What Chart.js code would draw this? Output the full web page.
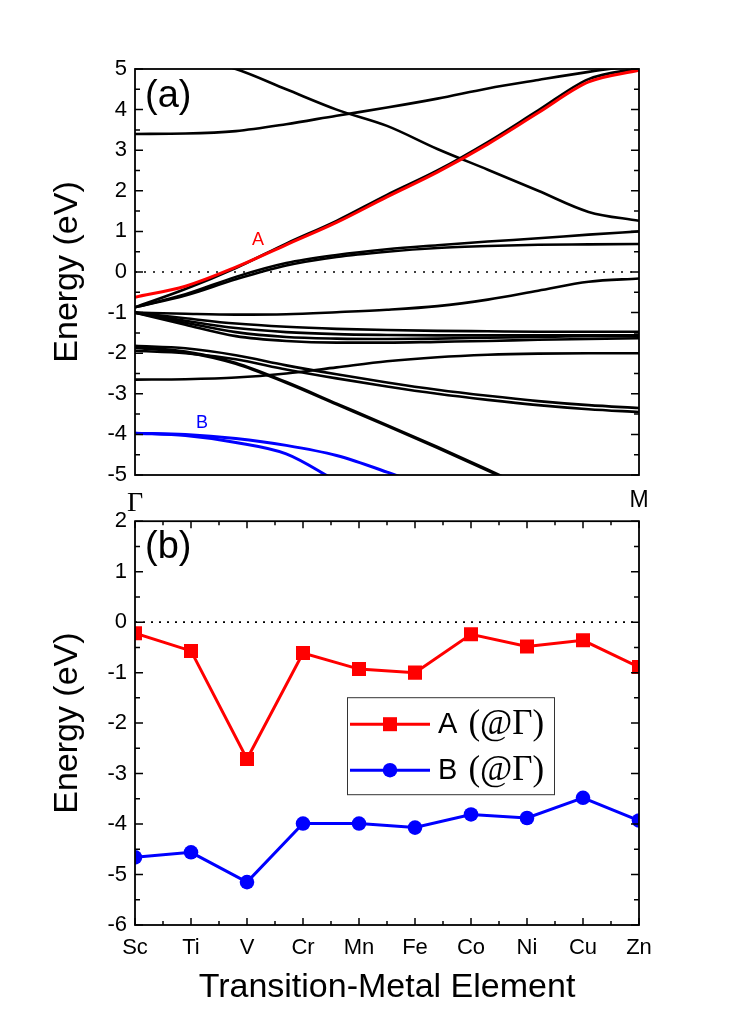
<!DOCTYPE html>
<html>
<head>
<meta charset="utf-8">
<script src="https://cdn.jsdelivr.net/npm/chart.js@4.4.0/dist/chart.umd.min.js"></script>
<style>
  html, body { margin: 0; padding: 0; background: #fff; }
  #wrapA { position: absolute; left: 0; top: 0; width: 746px; height: 515px; }
  #wrapB { position: absolute; left: 0; top: 500px; width: 746px; height: 523px; }
</style>
</head>
<body>
<div id="wrapA"><canvas id="bandChart"></canvas></div>
<div id="wrapB"><canvas id="elemChart"></canvas></div>
<script>
const sans = "'Liberation Sans', Arial, sans-serif";
const serif = "'Liberation Serif', 'Times New Roman', serif";

// panel (a): band structure along Γ -> M
const kPath = [0, 0.1, 0.2, 0.3, 0.4, 0.5, 0.6, 0.7, 0.8, 0.9, 1.0];
const kTicks = [0, 1];
const kLabels = ['Γ', 'M'];

const bandA = [-0.62, -0.35, 0.12, 0.67, 1.22, 1.85, 2.46, 3.15, 3.92, 4.68, 4.97];
const bandB1 = [-3.97, -4.0, -4.1, -4.27, -4.52, -4.93, -5.4, -6.0, -6.6, -7.2, -7.8];
const bandB2 = [-3.97, -4.03, -4.2, -4.48, -5.15, -5.8, -6.5, -7.2, -7.9, -8.6, -9.3];

const band1 = [5.6, 5.3, 5.0, 4.5, 4.0, 3.6, 3.03, 2.52, 2.0, 1.48, 1.26];
const band2 = [3.40, 3.41, 3.47, 3.64, 3.85, 4.05, 4.27, 4.52, 4.73, 4.93, 5.1];
const bandE = [-0.87, -0.42, 0.1, 0.7, 1.26, 1.9, 2.5, 3.2, 3.98, 4.75, 5.02];
const bandC = [-0.87, -0.55, -0.12, 0.22, 0.42, 0.56, 0.66, 0.75, 0.83, 0.92, 1.0];
const bandD = [-0.87, -0.58, -0.18, 0.16, 0.37, 0.5, 0.59, 0.64, 0.67, 0.68, 0.69];
const bandF = [-1.0, -1.03, -1.05, -1.04, -0.99, -0.93, -0.84, -0.68, -0.46, -0.24, -0.16];
const bandG1 = [-1.0, -1.14, -1.27, -1.35, -1.4, -1.43, -1.45, -1.46, -1.47, -1.47, -1.47];
const bandG2 = [-1.0, -1.2, -1.38, -1.48, -1.53, -1.55, -1.56, -1.56, -1.56, -1.56, -1.56];
const bandG3 = [-1.0, -1.25, -1.48, -1.6, -1.64, -1.65, -1.64, -1.62, -1.6, -1.58, -1.58];
const bandG4 = [-1.0, -1.3, -1.58, -1.7, -1.74, -1.74, -1.72, -1.7, -1.67, -1.65, -1.63];
const bandH = [-2.65, -2.64, -2.6, -2.5, -2.35, -2.2, -2.1, -2.04, -2.01, -2.0, -2.0];
const bandI1 = [-1.82, -1.88, -2.05, -2.3, -2.52, -2.72, -2.9, -3.05, -3.18, -3.28, -3.35];
const bandI2 = [-1.94, -2.0, -2.15, -2.4, -2.62, -2.82, -3.0, -3.15, -3.28, -3.38, -3.45];
const bandJ = [-1.86, -1.97, -2.25, -2.72, -3.25, -3.78, -4.32, -4.88, -5.45, -6.0, -6.5];
const blackBands = [band1, band2, bandE, bandC, bandD, bandF, bandG1, bandG2, bandG3, bandG4, bandH, bandI1, bandI2];

// band labels: [text, k, energy, colour]
const bandNotes = [['A', 0.244, 0.79, '#ff0000'], ['B', 0.133, -3.72, '#0000ff']];

// panel (b): A and B at Γ for each transition metal
const elements = ['Sc', 'Ti', 'V', 'Cr', 'Mn', 'Fe', 'Co', 'Ni', 'Cu', 'Zn'];
const energyA = [-0.22, -0.57, -2.71, -0.61, -0.93, -1.0, -0.24, -0.48, -0.36, -0.89];
const energyB = [-4.66, -4.56, -5.15, -3.99, -3.99, -4.07, -3.81, -3.88, -3.48, -3.93];
const seriesLabels = ['A (@Γ)', 'B (@Γ)'];

const toXY = band => band.map((y, i) => ({ x: kPath[i], y }));

function bandSet(band, color, width) {
  return {
    data: toXY(band),
    borderColor: color,
    borderWidth: width,
    pointRadius: 0,
    cubicInterpolationMode: 'monotone',
    clip: 0
  };
}

// box, inward ticks and dotted zero line
const framePlugin = {
  id: 'frame',
  beforeDatasetsDraw(chart, args, opts) {
    const { ctx, chartArea: a, scales } = chart;
    const y0 = scales.y.getPixelForValue(0);
    ctx.save();
    ctx.strokeStyle = '#000';
    ctx.lineWidth = 1.6;
    ctx.setLineDash(opts.dash);
    ctx.beginPath();
    ctx.moveTo(a.left, y0);
    ctx.lineTo(a.right, y0);
    ctx.stroke();
    ctx.restore();
  },
  afterDatasetsDraw(chart, args, opts) {
    const { ctx, chartArea: a, scales } = chart;
    ctx.save();
    ctx.strokeStyle = '#000';
    ctx.lineWidth = 1.8;
    ctx.strokeRect(a.left, a.top, a.right - a.left, a.bottom - a.top);
    ctx.lineWidth = 1.5;
    ctx.beginPath();
    const ys = scales.y;
    for (let v = ys.min; v <= ys.max + 1e-9; v += 0.5) {
      const py = ys.getPixelForValue(v);
      const len = Number.isInteger(v) ? 8 : 5;
      ctx.moveTo(a.left, py); ctx.lineTo(a.left + len, py);
      ctx.moveTo(a.right, py); ctx.lineTo(a.right - len, py);
    }
    if (opts.xTicks) {
      const xs = scales.x;
      const n = xs.getLabels().length;
      for (let i = 0; i <= n - 1; i += 0.5) {
        const px = xs.getPixelForValue(i);
        const len = Number.isInteger(i) ? 7 : 4;
        ctx.moveTo(px, a.top); ctx.lineTo(px, a.top + len);
        ctx.moveTo(px, a.bottom); ctx.lineTo(px, a.bottom - len);
      }
    }
    ctx.stroke();
    // panel tag
    ctx.fillStyle = '#000';
    ctx.font = '38px ' + sans;
    ctx.textBaseline = 'middle';
    ctx.textAlign = 'left';
    ctx.fillText(opts.tag, a.left + 10, a.top + opts.tagY);
    ctx.restore();
  }
};

const notePlugin = {
  id: 'notes',
  afterDatasetsDraw(chart) {
    const { ctx, scales } = chart;
    ctx.save();
    ctx.font = '18px ' + sans;
    ctx.textAlign = 'center';
    ctx.textBaseline = 'middle';
    bandNotes.forEach(([t, k, e, c]) => {
      ctx.fillStyle = c;
      ctx.fillText(t, scales.x.getPixelForValue(k), scales.y.getPixelForValue(e));
    });
    ctx.restore();
  }
};

const legendPlugin = {
  id: 'boxLegend',
  afterDraw(chart) {
    const { ctx, chartArea: a } = chart;
    const bx = a.left + 212, by = a.top + 176, bw = 207, bh = 97;
    ctx.save();
    ctx.strokeStyle = '#333';
    ctx.lineWidth = 1;
    ctx.strokeRect(bx + 0.5, by + 0.5, bw, bh);
    chart.data.datasets.forEach((ds, i) => {
      const cy = by + 27 + i * 46;
      ctx.strokeStyle = ds.borderColor;
      ctx.lineWidth = 3;
      ctx.beginPath();
      ctx.moveTo(bx + 3, cy); ctx.lineTo(bx + 83, cy);
      ctx.stroke();
      ctx.fillStyle = ds.borderColor;
      ctx.beginPath();
      if (ds.pointStyle === 'rect') ctx.rect(bx + 36, cy - 7, 14, 14);
      else ctx.arc(bx + 43, cy, 7.3, 0, Math.PI * 2);
      ctx.fill();
      const [head, ...rest] = ds.label.split(' ');
      ctx.fillStyle = '#000';
      ctx.textBaseline = 'middle';
      ctx.font = '29px ' + sans;
      ctx.fillText(head, bx + 91, cy + 1);
      const w = ctx.measureText(head + ' ').width + 3;
      ctx.font = '35px ' + serif;
      ctx.fillText(rest.join(' '), bx + 91 + w, cy + 1);
    });
    ctx.restore();
  }
};

const yTitle = {
  display: true,
  text: 'Energy (eV)',
  color: '#000',
  font: { size: 34, family: sans },
  padding: { top: 47, bottom: 0 }
};

new Chart(document.getElementById('bandChart'), {
  type: 'line',
  data: {
    datasets: [
      bandSet(bandA, '#ff0000', 3),
      bandSet(bandB1, '#0000ff', 3),
      bandSet(bandB2, '#0000ff', 3),
      ...blackBands.map(b => bandSet(b, '#000', 2.6)),
      bandSet(bandJ, '#000', 3.4)
    ]
  },
  options: {
    responsive: true,
    maintainAspectRatio: false,
    animation: false,
    layout: { padding: { top: 69, right: 107, left: 0, bottom: 0 } },
    plugins: {
      legend: { display: false },
      tooltip: { enabled: false },
      frame: { dash: [2, 7], tag: '(a)', tagY: 28 }
    },
    scales: {
      x: {
        type: 'linear',
        min: 0,
        max: 1,
        grid: { display: false },
        border: { display: false },
        afterBuildTicks: s => { s.ticks = kTicks.map(v => ({ value: v })); },
        afterFit: s => { s.height = 40; },
        ticks: {
          autoSkip: false,
          maxRotation: 0,
          padding: 4,
          color: '#000',
          callback: v => kLabels[kTicks.indexOf(v)],
          font: ctx => ctx.index === 0 ? { size: 28, family: serif } : { size: 23, family: sans }
        }
      },
      y: {
        min: -5,
        max: 5,
        grid: { display: false, drawTicks: false },
        border: { display: false },
        afterFit: s => { s.width = 135; },
        ticks: { stepSize: 1, padding: 8, color: '#000', font: { size: 22, family: sans } },
        title: yTitle
      }
    }
  },
  plugins: [framePlugin, notePlugin]
});

new Chart(document.getElementById('elemChart'), {
  type: 'line',
  data: {
    labels: elements,
    datasets: [
      {
        label: seriesLabels[0],
        data: energyA,
        borderColor: '#ff0000',
        backgroundColor: '#ff0000',
        borderWidth: 3,
        pointStyle: 'rect',
        pointRadius: 9.9,
        pointBorderWidth: 0,
        clip: 0
      },
      {
        label: seriesLabels[1],
        data: energyB,
        borderColor: '#0000ff',
        backgroundColor: '#0000ff',
        borderWidth: 3,
        pointStyle: 'circle',
        pointRadius: 7.3,
        pointBorderWidth: 0,
        clip: 0
      }
    ]
  },
  options: {
    responsive: true,
    maintainAspectRatio: false,
    animation: false,
    layout: { padding: { top: 20, right: 107, left: 0, bottom: 0 } },
    plugins: {
      legend: { display: false },
      tooltip: { enabled: false },
      frame: { dash: [2, 6], tag: '(b)', tagY: 26, xTicks: true }
    },
    scales: {
      x: {
        offset: false,
        grid: { display: false, drawTicks: false },
        border: { display: false },
        afterFit: s => { s.height = 98; },
        ticks: { autoSkip: false, maxRotation: 0, padding: 10, color: '#000', font: { size: 22, family: sans } },
        title: {
          display: true,
          text: 'Transition-Metal Element',
          color: '#000',
          font: { size: 34, family: sans },
          padding: { top: 0, bottom: 15 }
        }
      },
      y: {
        min: -6,
        max: 2,
        grid: { display: false, drawTicks: false },
        border: { display: false },
        afterFit: s => { s.width = 135; },
        ticks: { stepSize: 1, padding: 8, color: '#000', font: { size: 22, family: sans } },
        title: yTitle
      }
    }
  },
  plugins: [framePlugin, legendPlugin]
});
</script>
</body>
</html>
